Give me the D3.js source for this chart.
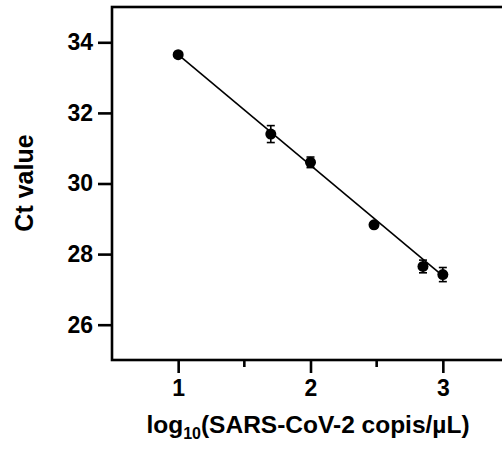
<!DOCTYPE html>
<html>
<head>
<meta charset="utf-8">
<script src="https://cdn.jsdelivr.net/npm/d3@7"></script>
<style>
body { margin: 0; background: #fff; }
svg { display: block; font-family: "Liberation Sans", Arial, sans-serif; font-weight: bold; }
</style>
</head>
<body>
<div id="chart"></div>
<script>
// measured points: log10 copies vs Ct (mean, sd)
var logCopies = [1, 1.7, 2, 2.48, 2.85, 3];
var ctMean = [33.65, 31.4, 30.6, 28.83, 27.65, 27.42];
var ctSd = [0.05, 0.24, 0.15, 0.05, 0.18, 0.2];

// regression line end points
var fitX = [1, 3];
var fitY = [33.65, 27.38];

var yTicks = [26, 28, 30, 32, 34];
var xTicks = [1, 2, 3];
var xMinor = [1.5, 2.5, 3.5];

var W = 502, H = 450;
var mLeft = 112, mTop = 7, mRight = 509, mBottom = 360;

var svg = d3.select("#chart").append("svg")
	.attr("width", W)
	.attr("height", H);

var x = d3.scaleLinear().domain([0.5, 3.5]).range([mLeft, mRight]);
var y = d3.scaleLinear().domain([25, 35]).range([mBottom, mTop]);

// frame
svg.append("rect")
	.attr("x", mLeft)
	.attr("y", mTop)
	.attr("width", mRight - mLeft)
	.attr("height", mBottom - mTop)
	.attr("fill", "none")
	.attr("stroke", "#000")
	.attr("stroke-width", 2.6);

// y axis
var yAxis = svg.append("g")
	.attr("transform", "translate(" + mLeft + ",0)")
	.call(d3.axisLeft(y).tickValues(yTicks).tickFormat(d3.format("d")).tickSize(14).tickPadding(5));
yAxis.select(".domain").remove();
yAxis.selectAll("line").attr("stroke-width", 2.6);
yAxis.selectAll("text")
	.attr("font-size", 23)
	.attr("font-weight", "bold")
	.attr("font-family", "Liberation Sans, Arial, sans-serif")
	.attr("fill", "#000");

// x axis
var xAxis = svg.append("g")
	.attr("transform", "translate(0," + mBottom + ")")
	.call(d3.axisBottom(x).tickValues(xTicks).tickFormat(d3.format("d")).tickSize(13).tickPadding(7));
xAxis.select(".domain").remove();
xAxis.selectAll("line").attr("stroke-width", 2.6);
xAxis.selectAll("text")
	.attr("font-size", 23)
	.attr("font-weight", "bold")
	.attr("font-family", "Liberation Sans, Arial, sans-serif")
	.attr("fill", "#000");

svg.append("g").selectAll("line")
	.data(xMinor)
	.enter().append("line")
	.attr("x1", function(d){ return x(d); })
	.attr("x2", function(d){ return x(d); })
	.attr("y1", mBottom)
	.attr("y2", mBottom + 7)
	.attr("stroke", "#000")
	.attr("stroke-width", 2.6);

// titles
svg.append("text")
	.attr("transform", "translate(33,183) rotate(-90)")
	.attr("text-anchor", "middle")
	.attr("font-size", 25)
	.text("Ct value");

var xt = svg.append("text")
	.attr("x", 308)
	.attr("y", 433)
	.attr("text-anchor", "middle")
	.attr("font-size", 24.5);
xt.append("tspan").text("log");
xt.append("tspan").attr("font-size", 16).attr("dy", 6).text("10");
xt.append("tspan").attr("dy", -6).text("(SARS-CoV-2 copis/µL)");

// fit line
var pts = fitX.map(function(v, i){ return [v, fitY[i]]; });
svg.append("path")
	.datum(pts)
	.attr("d", d3.line().x(function(d){ return x(d[0]); }).y(function(d){ return y(d[1]); }))
	.attr("fill", "none")
	.attr("stroke", "#000")
	.attr("stroke-width", 1.6);

var data = logCopies.map(function(v, i){ return {x: v, m: ctMean[i], s: ctSd[i]}; });

// error bars
var eb = svg.append("g").selectAll("g")
	.data(data)
	.enter().append("g");
eb.append("line")
	.attr("x1", function(d){ return x(d.x); })
	.attr("x2", function(d){ return x(d.x); })
	.attr("y1", function(d){ return y(d.m - d.s); })
	.attr("y2", function(d){ return y(d.m + d.s); })
	.attr("stroke", "#000")
	.attr("stroke-width", 1.6);
eb.append("line")
	.attr("x1", function(d){ return x(d.x) - 4; })
	.attr("x2", function(d){ return x(d.x) + 4; })
	.attr("y1", function(d){ return y(d.m + d.s); })
	.attr("y2", function(d){ return y(d.m + d.s); })
	.attr("stroke", "#000")
	.attr("stroke-width", 1.6);
eb.append("line")
	.attr("x1", function(d){ return x(d.x) - 4; })
	.attr("x2", function(d){ return x(d.x) + 4; })
	.attr("y1", function(d){ return y(d.m - d.s); })
	.attr("y2", function(d){ return y(d.m - d.s); })
	.attr("stroke", "#000")
	.attr("stroke-width", 1.6);

// points
svg.append("g").selectAll("circle")
	.data(data)
	.enter().append("circle")
	.attr("cx", function(d){ return x(d.x); })
	.attr("cy", function(d){ return y(d.m); })
	.attr("r", 5.5)
	.attr("fill", "#000");
</script>
</body>
</html>
